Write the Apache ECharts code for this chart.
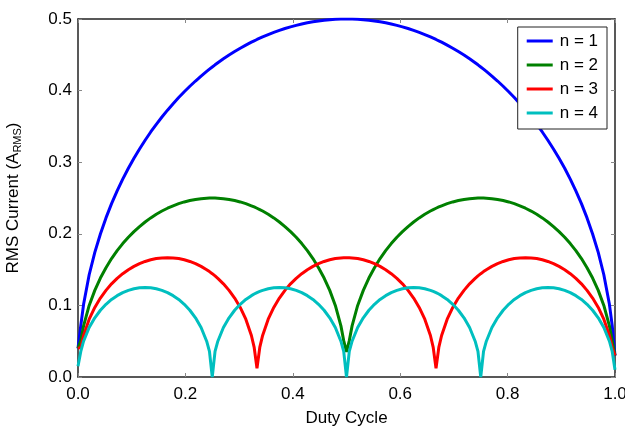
<!DOCTYPE html>
<html>
<head>
<meta charset="utf-8">
<script src="https://cdn.jsdelivr.net/npm/echarts@6/dist/echarts.min.js"></script>
<style>
  html, body { margin: 0; padding: 0; background: #fff; }
  #chart { width: 625px; height: 426px; }
</style>
</head>
<body>
<div id="chart"></div>
<script>
// duty cycle samples, step 1/96 with half steps next to the cusps
var dutyCycle = [0, 0.0052,
  0.0104, 0.0208, 0.0313, 0.0417, 0.0521, 0.0625, 0.0729, 0.0833, 0.0938, 0.1042, 0.1146, 0.125,
  0.1354, 0.1458, 0.1563, 0.1667, 0.1771, 0.1875, 0.1979, 0.2083, 0.2188, 0.2292, 0.2396,
  0.2448, 0.25, 0.2552,
  0.2604, 0.2708, 0.2813, 0.2917, 0.3021, 0.3125, 0.3229,
  0.3281, 0.3333, 0.3385,
  0.3438, 0.3542, 0.3646, 0.375, 0.3854, 0.3958, 0.4063, 0.4167, 0.4271, 0.4375, 0.4479, 0.4583,
  0.4688, 0.4792, 0.4896,
  0.4948, 0.5, 0.5052,
  0.5104, 0.5208, 0.5313, 0.5417, 0.5521, 0.5625, 0.5729, 0.5833, 0.5938, 0.6042, 0.6146, 0.625,
  0.6354, 0.6458, 0.6563,
  0.6615, 0.6667, 0.6719,
  0.6771, 0.6875, 0.6979, 0.7083, 0.7188, 0.7292, 0.7396,
  0.7448, 0.75, 0.7552,
  0.7604, 0.7708, 0.7813, 0.7917, 0.8021, 0.8125, 0.8229, 0.8333, 0.8438, 0.8542, 0.8646, 0.875,
  0.8854, 0.8958, 0.9063, 0.9167, 0.9271, 0.9375, 0.9479, 0.9583, 0.9688, 0.9792, 0.9896,
  0.9948, 1];

var rmsN1 = [0.04, 0.0720,
  0.1015, 0.1428, 0.1740, 0.1998, 0.2222, 0.2421, 0.2600, 0.2764, 0.2915, 0.3055, 0.3185, 0.3307,
  0.3422, 0.3529, 0.3631, 0.3727, 0.3817, 0.3903, 0.3984, 0.4061, 0.4134, 0.4203, 0.4268,
  0.4300, 0.4330, 0.4360,
  0.4389, 0.4444, 0.4496, 0.4545, 0.4592, 0.4635, 0.4676,
  0.4695, 0.4714, 0.4732,
  0.4750, 0.4783, 0.4813, 0.4841, 0.4867, 0.4890, 0.4911, 0.4930, 0.4947, 0.4961, 0.4973, 0.4983,
  0.4990, 0.4996, 0.4999,
  0.5, 0.5, 0.5,
  0.4999, 0.4996, 0.4990, 0.4983, 0.4973, 0.4961, 0.4947, 0.4930, 0.4911, 0.4890, 0.4867, 0.4841,
  0.4813, 0.4783, 0.4750,
  0.4732, 0.4714, 0.4695,
  0.4676, 0.4635, 0.4592, 0.4545, 0.4496, 0.4444, 0.4389,
  0.4360, 0.4330, 0.4300,
  0.4268, 0.4203, 0.4134, 0.4061, 0.3984, 0.3903, 0.3817, 0.3727, 0.3631, 0.3529, 0.3422, 0.3307,
  0.3185, 0.3055, 0.2915, 0.2764, 0.2600, 0.2421, 0.2222, 0.1998, 0.1740, 0.1428, 0.1015,
  0.0720, 0.03];

var rmsN2 = [0.04, 0.0508,
  0.0714, 0.0999, 0.1210, 0.1382, 0.1527, 0.1654, 0.1765, 0.1863, 0.1952, 0.2031, 0.2101, 0.2165,
  0.2222, 0.2273, 0.2318, 0.2357, 0.2391, 0.2421, 0.2445, 0.2465, 0.2480, 0.2491, 0.2498,
  0.25, 0.25, 0.25,
  0.2498, 0.2491, 0.2480, 0.2465, 0.2445, 0.2421, 0.2391,
  0.2375, 0.2357, 0.2338,
  0.2318, 0.2273, 0.2222, 0.2165, 0.2101, 0.2031, 0.1952, 0.1863, 0.1765, 0.1654, 0.1527, 0.1382,
  0.1210, 0.0999, 0.0714,
  0.0508, 0.035, 0.0508,
  0.0714, 0.0999, 0.1210, 0.1382, 0.1527, 0.1654, 0.1765, 0.1863, 0.1952, 0.2031, 0.2101, 0.2165,
  0.2222, 0.2273, 0.2318,
  0.2338, 0.2357, 0.2375,
  0.2391, 0.2421, 0.2445, 0.2465, 0.2480, 0.2491, 0.2498,
  0.25, 0.25, 0.25,
  0.2498, 0.2491, 0.2480, 0.2465, 0.2445, 0.2421, 0.2391, 0.2357, 0.2318, 0.2273, 0.2222, 0.2165,
  0.2101, 0.2031, 0.1952, 0.1863, 0.1765, 0.1654, 0.1527, 0.1382, 0.1210, 0.0999, 0.0714,
  0.0508, 0.03];

var rmsN3 = [0.04, 0.0413,
  0.0580, 0.0807, 0.0972, 0.1102, 0.1210, 0.1301, 0.1378, 0.1443, 0.1499, 0.1545, 0.1583, 0.1614,
  0.1637, 0.1654, 0.1663, 0.1667, 0.1663, 0.1654, 0.1637, 0.1614, 0.1583, 0.1545, 0.1499,
  0.1472, 0.1443, 0.1412,
  0.1378, 0.1301, 0.1210, 0.1102, 0.0972, 0.0807, 0.0580,
  0.0413, 0.012, 0.0413,
  0.0580, 0.0807, 0.0972, 0.1102, 0.1210, 0.1301, 0.1378, 0.1443, 0.1499, 0.1545, 0.1583, 0.1614,
  0.1637, 0.1654, 0.1663,
  0.1666, 0.1667, 0.1666,
  0.1663, 0.1654, 0.1637, 0.1614, 0.1583, 0.1545, 0.1499, 0.1443, 0.1378, 0.1301, 0.1210, 0.1102,
  0.0972, 0.0807, 0.0580,
  0.0413, 0.012, 0.0413,
  0.0580, 0.0807, 0.0972, 0.1102, 0.1210, 0.1301, 0.1378,
  0.1412, 0.1443, 0.1472,
  0.1499, 0.1545, 0.1583, 0.1614, 0.1637, 0.1654, 0.1663, 0.1667, 0.1663, 0.1654, 0.1637, 0.1614,
  0.1583, 0.1545, 0.1499, 0.1443, 0.1378, 0.1301, 0.1210, 0.1102, 0.0972, 0.0807, 0.0580,
  0.0413, 0.03];

var rmsN4 = [0.015, 0.0357,
  0.0500, 0.0691, 0.0827, 0.0932, 0.1015, 0.1083, 0.1136, 0.1179, 0.1210, 0.1232, 0.1246, 0.125,
  0.1246, 0.1232, 0.1210, 0.1179, 0.1136, 0.1083, 0.1015, 0.0932, 0.0827, 0.0691, 0.0500,
  0.0357, 0, 0.0357,
  0.0500, 0.0691, 0.0827, 0.0932, 0.1015, 0.1083, 0.1136,
  0.1159, 0.1179, 0.1196,
  0.1210, 0.1232, 0.1246, 0.125, 0.1246, 0.1232, 0.1210, 0.1179, 0.1136, 0.1083, 0.1015, 0.0932,
  0.0827, 0.0691, 0.0500,
  0.0357, 0, 0.0357,
  0.0500, 0.0691, 0.0827, 0.0932, 0.1015, 0.1083, 0.1136, 0.1179, 0.1210, 0.1232, 0.1246, 0.125,
  0.1246, 0.1232, 0.1210,
  0.1196, 0.1179, 0.1159,
  0.1136, 0.1083, 0.1015, 0.0932, 0.0827, 0.0691, 0.0500,
  0.0357, 0, 0.0357,
  0.0500, 0.0691, 0.0827, 0.0932, 0.1015, 0.1083, 0.1136, 0.1179, 0.1210, 0.1232, 0.1246, 0.125,
  0.1246, 0.1232, 0.1210, 0.1179, 0.1136, 0.1083, 0.1015, 0.0932, 0.0827, 0.0691, 0.0500,
  0.0357, 0.01];

var seriesNames = ['n = 1', 'n = 2', 'n = 3', 'n = 4'];
var seriesColors = ['#0000ff', '#008000', '#ff0000', '#00bfbf'];

var font = 'Liberation Sans, Arial, Helvetica, sans-serif';

function pairs(ys) {
  return dutyCycle.map(function (x, i) { return [x, ys[i]]; });
}

var chart = echarts.init(document.getElementById('chart'));

var tickStyle = {show: true, inside: true, length: 4, lineStyle: {color: '#888', width: 1}};
var lineStyleAxis = {show: true, onZero: false, lineStyle: {color: '#222', width: 1.5}};

chart.setOption({
  animation: false,
  backgroundColor: '#fff',
  textStyle: {fontFamily: font},
  grid: {left: 78, right: 10, top: 19, bottom: 49, containLabel: false, outerBoundsMode: 'none'},
  legend: {
    orient: 'vertical',
    right: 18,
    top: 27,
    data: seriesNames,
    icon: 'rect',
    itemWidth: 26,
    itemHeight: 3,
    itemGap: 4,
    padding: [4, 9, 6, 9],
    borderColor: '#222',
    borderWidth: 1,
    backgroundColor: '#fff',
    textStyle: {fontFamily: font, fontSize: 17, color: '#000', lineHeight: 20, padding: [0, 0, 0, 2]}
  },
  xAxis: [{
    type: 'value',
    min: 0, max: 1, interval: 0.2,
    name: 'Duty Cycle',
    nameLocation: 'middle',
    nameGap: 33,
    nameTextStyle: {fontFamily: font, fontSize: 17, color: '#000'},
    axisLine: lineStyleAxis,
    axisTick: tickStyle,
    splitLine: {show: false},
    axisLabel: {
      fontFamily: font, fontSize: 17, color: '#000', margin: 9,
      formatter: function (v) { return v.toFixed(1); }
    }
  }, {
    type: 'value',
    position: 'top',
    min: 0, max: 1, interval: 0.2,
    axisLine: lineStyleAxis,
    axisTick: tickStyle,
    splitLine: {show: false},
    axisLabel: {show: false}
  }],
  yAxis: [{
    type: 'value',
    min: 0, max: 0.5, interval: 0.1,
    name: 'RMS Current (A{sub|RMS})',
    nameLocation: 'middle',
    nameGap: 55,
    nameRotate: 90,
    nameTextStyle: {
      fontFamily: font, fontSize: 17, color: '#000',
      rich: {sub: {fontFamily: font, fontSize: 11, color: '#000', padding: [9, 0, 0, 0]}}
    },
    axisLine: lineStyleAxis,
    axisTick: tickStyle,
    splitLine: {show: false},
    axisLabel: {
      fontFamily: font, fontSize: 17, color: '#000', margin: 6,
      formatter: function (v) { return v.toFixed(1); }
    }
  }, {
    type: 'value',
    position: 'right',
    min: 0, max: 0.5, interval: 0.1,
    axisLine: lineStyleAxis,
    axisTick: tickStyle,
    splitLine: {show: false},
    axisLabel: {show: false}
  }],
  series: [rmsN1, rmsN2, rmsN3, rmsN4].map(function (ys, i) {
    return {
      name: seriesNames[i],
      type: 'line',
      data: pairs(ys),
      showSymbol: false,
      symbol: 'none',
      smooth: false,
      color: seriesColors[i],
      lineStyle: {color: seriesColors[i], width: 3}
    };
  })
});
</script>
</body>
</html>
